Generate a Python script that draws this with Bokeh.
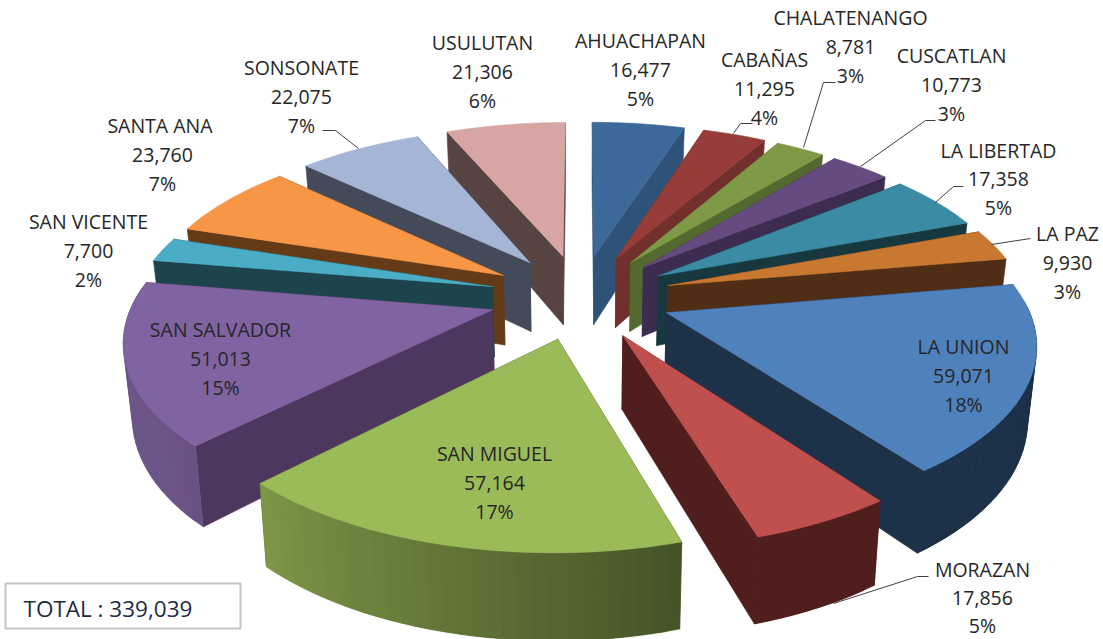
import math
from bokeh.plotting import figure
from bokeh.models import Range1d
from bokeh.embed import file_html
from bokeh.resources import INLINE
from bokeh.core.properties import value

# --- data -------------------------------------------------------------
departments = ["AHUACHAPAN", "CABAÑAS", "CHALATENANGO", "CUSCATLAN", "LA LIBERTAD", "LA PAZ", "LA UNION",
               "MORAZAN", "SAN MIGUEL", "SAN SALVADOR", "SAN VICENTE", "SANTA  ANA", "SONSONATE", "USULUTAN"]
counts = [16477, 11295, 8781, 10773, 17358, 9930, 59071, 17856, 57164, 51013, 7700, 23760, 22075, 21306]
percents = ["5%", "4%", "3%", "3%", "5%", "3%", "18%", "5%", "17%", "15%", "2%", "7%", "7%", "6%"]
total_label = "TOTAL : 339,039"

# --- styles -----------------------------------------------------------
top_colors = ["#3c6999", "#963d3a", "#7e9a46", "#664b80", "#3a8ba3", "#c87831", "#4f81bd",
              "#c0504d", "#9bbb59", "#8064a2", "#4bacc6", "#f79646", "#a5b5d6", "#d6a5a4"]
wall_colors = ["#2f5278", "#72302d", "#536930", "#3c2d50", "#17383f", "#4f2e15", "#1d3149",
               "#4f1e1d", "#46522a", "#4c375e", "#1d434c", "#653a17", "#444a59", "#574342"]
label_x = [640, 764, 850, 951, 998, 1067, 963, 982, 494, 220, 88, 162, 301, 482]
label_y = [40, 59, 17, 55, 150, 233, 346, 569, 453, 329, 221, 125, 67, 42]
line_gap = [29, 29, 29, 29, 28.5, 29, 29, 28, 29, 29, 29, 29, 29, 29]
leaders = [
    ([752, 740, 733], [123, 123, 133]),
    ([803, 823, 835], [147, 82, 82]),
    ([860, 925, 935], [166, 120, 120]),
    ([935, 953, 963], [202, 186, 186]),
    ([991, 1030], [244, 238]),
    ([833, 917, 928], [603, 576, 576]),
    ([322, 335, 358], [130, 130, 148]),
]
CX, CY = 580.0, 296.0       # pie centre on the page
A, B = 358.0, 166.0         # horizontal / vertical radius
K = 0.154                   # perspective
EXPLODE = 0.255
DEPTH = 71.0
SHRINK = 0.98
TEXT_FONT = "Open Sans"
TEXT_SIZE = "19.5px"
W, H = 1103, 639


def project(u, v, lower=False):
    d = 1 + K * v
    x = A * u / d
    y = -B * v / d
    if lower:
        return CX + x * SHRINK, CY + y + DEPTH / d
    return CX + x, CY + y


def shade(hex_color, theta):
    t = theta % 360
    f = min(0.85, max(0.37, 0.45 + (t - 163) * 0.0058))
    rgb = [int(hex_color[i:i + 2], 16) for i in (1, 3, 5)]
    return "#%02x%02x%02x" % tuple(int(c * f) for c in rgb)


p = figure(width=W, height=H, output_backend="svg", toolbar_location=None,
           x_range=Range1d(0, W), y_range=Range1d(H, 0),
           x_axis_location=None, y_axis_location=None, min_border=0,
           outline_line_color=None, background_fill_color="white")
p.grid.visible = False

whole = sum(counts)
angles = [0.0]
for c in counts:
    angles.append(angles[-1] + c / whole * 360.0)
mids = [(angles[i] + angles[i + 1]) / 2 for i in range(len(counts))]
order = sorted(range(len(counts)), key=lambda i: -math.cos(math.radians(mids[i])))

for i in order:
    a0, a1, m = angles[i], angles[i + 1], math.radians(mids[i])
    du, dv = EXPLODE * math.sin(m), EXPLODE * math.cos(m)
    steps = max(2, int(round((a1 - a0) / 2)))
    th = [a0 + (a1 - a0) * s / steps for s in range(steps + 1)]
    rim = [(du + math.sin(math.radians(t)), dv + math.cos(math.radians(t))) for t in th]
    apex = project(du, dv)
    apex_low = project(du, dv, True)

    # radial walls
    for end in (rim[0], rim[-1]):
        t, b = project(*end), project(*end, True)
        p.patch([apex[0], apex_low[0], b[0], t[0]], [apex[1], apex_low[1], b[1], t[1]],
                fill_color=wall_colors[i], line_color=wall_colors[i], line_width=0.6)
    # curved outer wall: flat on the right, shaded on the front and left
    for s in range(steps):
        if math.cos(math.radians(th[s])) > 0.1:
            continue
        j = min(s + 2, steps)
        xs_t = [project(*r) for r in rim[s:j + 1]]
        xs_b = [project(*r, True) for r in rim[s:j + 1]][::-1]
        col = wall_colors[i] if mids[i] < 160 else shade(top_colors[i], (th[s] + th[s + 1]) / 2)
        poly = xs_t + xs_b
        p.patch([q[0] for q in poly], [q[1] for q in poly],
                fill_color=col, line_color=col, line_width=0.4)
    # top face
    pts = [apex] + [project(*r) for r in rim]
    p.patch([q[0] for q in pts], [q[1] for q in pts],
            fill_color=top_colors[i], line_color=top_colors[i], line_width=0.5)

for xs, ys in leaders:
    p.line(xs, ys, line_color="#404040", line_width=1)

for i, name in enumerate(departments):
    lines = [name, f"{counts[i]:,}", percents[i]]
    p.text([label_x[i]] * 3, [label_y[i] + line_gap[i] * n for n in range(3)], text=lines,
           text_font=value(TEXT_FONT), text_font_size=value(TEXT_SIZE), text_color="#262626",
           text_align="center", text_baseline="middle")

p.quad(left=[5], right=[240], top=[583], bottom=[628], fill_color="white",
       line_color="#c4c4c4", line_width=2)
p.text([23], [608], text=[total_label], text_font=value(TEXT_FONT), text_font_size=value("22.5px"),
       text_color="#1f2a44", text_align="left", text_baseline="middle")

open("out.html", "w").write(file_html(p, INLINE))
